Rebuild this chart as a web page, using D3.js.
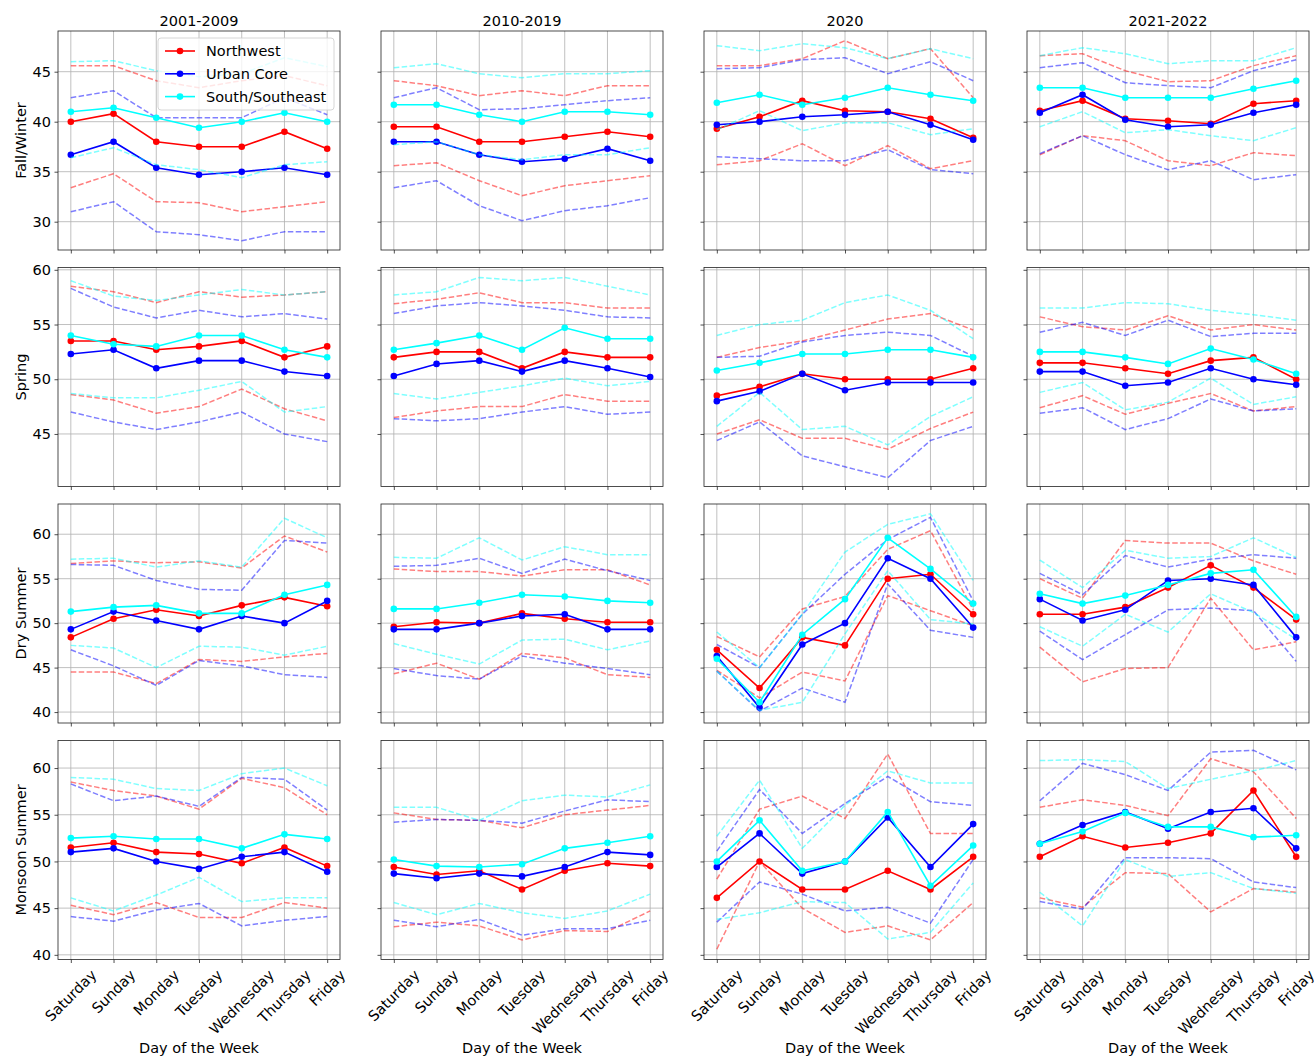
<!DOCTYPE html>
<html>
<head>
<meta charset="utf-8">
<script src="https://d3js.org/d3.v7.min.js"></script>
<style>
  body { margin: 0; background: #fff; }
  svg { font-family: "DejaVu Sans", sans-serif; }
</style>
</head>
<body>
<svg id="chart" width="1314" height="1056"></svg>
<script>
var days = ['Saturday', 'Sunday', 'Monday', 'Tuesday', 'Wednesday', 'Thursday', 'Friday'];
var periods = ['2001-2009', '2010-2019', '2020', '2021-2022'];
var seasons = ['Fall/Winter', 'Spring', 'Dry Summer', 'Monsoon Summer'];
var regions = ['Northwest', 'Urban Core', 'South/Southeast'];
var yTicks = [[30, 35, 40, 45], [45, 50, 55, 60], [40, 45, 50, 55, 60], [40, 45, 50, 55, 60]];
var yLimits = [[27.17, 49.07], [40.2, 60.21], [38.77, 63.4], [39.5, 62.95]];

// values are [period][region][day]
var fallMean = [
  [[40.0, 40.8, 38.0, 37.5, 37.5, 39.0, 37.3], [36.7, 38.0, 35.4, 34.7, 35.0, 35.4, 34.7], [41.0, 41.4, 40.4, 39.4, 40.0, 40.9, 40.0]],
  [[39.5, 39.5, 38.0, 38.0, 38.5, 39.0, 38.5], [38.0, 38.0, 36.7, 36.0, 36.3, 37.3, 36.1], [41.7, 41.7, 40.7, 40.0, 41.0, 41.0, 40.7]],
  [[39.3, 40.5, 42.1, 41.1, 41.0, 40.3, 38.4], [39.7, 40.0, 40.5, 40.7, 41.0, 39.7, 38.2], [41.9, 42.7, 41.7, 42.4, 43.4, 42.7, 42.1]],
  [[41.1, 42.1, 40.3, 40.1, 39.8, 41.8, 42.1], [40.9, 42.7, 40.2, 39.5, 39.7, 40.9, 41.7], [43.4, 43.4, 42.4, 42.4, 42.4, 43.3, 44.1]]
];
var fallHigh = [
  [[45.6, 45.6, 44.1, 43.4, 44.1, 44.6, 43.6], [42.4, 43.1, 40.4, 40.4, 40.4, 42.4, 40.7], [46.0, 46.1, 45.1, 44.5, 44.8, 46.4, 45.5]],
  [[44.1, 43.6, 42.6, 43.1, 42.6, 43.6, 43.6], [42.4, 43.4, 41.2, 41.3, 41.7, 42.1, 42.4], [45.4, 45.8, 44.8, 44.4, 44.8, 44.8, 45.1]],
  [[45.6, 45.6, 46.3, 48.1, 46.3, 47.3, 42.4], [45.3, 45.4, 46.2, 46.4, 44.8, 46.0, 44.1], [47.6, 47.1, 47.8, 47.4, 46.3, 47.3, 46.3]],
  [[46.6, 46.8, 45.1, 44.0, 44.1, 45.6, 46.6], [45.4, 45.9, 43.9, 43.6, 43.4, 45.1, 46.2], [46.6, 47.4, 46.8, 45.8, 46.1, 46.1, 47.4]]
];
var fallLow = [
  [[33.4, 34.8, 32.0, 31.9, 31.0, 31.5, 32.0], [31.0, 32.0, 29.0, 28.7, 28.1, 29.0, 29.0], [36.4, 37.4, 35.7, 35.2, 34.4, 35.7, 36.0]],
  [[35.6, 35.9, 34.1, 32.6, 33.6, 34.1, 34.6], [33.4, 34.1, 31.6, 30.1, 31.1, 31.6, 32.4], [37.7, 38.0, 36.7, 36.2, 36.7, 36.7, 37.4]],
  [[35.7, 36.1, 37.8, 35.6, 37.6, 35.3, 36.1], [36.5, 36.3, 36.1, 36.1, 37.2, 35.2, 34.8], [39.2, 41.1, 39.1, 39.9, 39.9, 38.7, 39.3]],
  [[36.7, 38.6, 38.1, 36.1, 35.6, 36.9, 36.6], [36.8, 38.6, 36.7, 35.2, 36.1, 34.2, 34.7], [39.5, 41.0, 38.9, 39.2, 38.6, 38.1, 39.4]]
];

var springMean = [
  [[53.5, 53.5, 52.7, 53.0, 53.5, 52.0, 53.0], [52.3, 52.7, 51.0, 51.7, 51.7, 50.7, 50.3], [54.0, 53.2, 53.0, 54.0, 54.0, 52.7, 52.0]],
  [[52.0, 52.5, 52.5, 51.0, 52.5, 52.0, 52.0], [50.3, 51.4, 51.7, 50.7, 51.7, 51.0, 50.2], [52.7, 53.3, 54.0, 52.7, 54.7, 53.7, 53.7]],
  [[48.5, 49.3, 50.5, 50.0, 50.0, 50.0, 51.0], [48.0, 48.9, 50.5, 49.0, 49.7, 49.7, 49.7], [50.8, 51.5, 52.3, 52.3, 52.7, 52.7, 52.0]],
  [[51.5, 51.5, 51.0, 50.5, 51.7, 52.0, 50.0], [50.7, 50.7, 49.4, 49.7, 51.0, 50.0, 49.5], [52.5, 52.5, 52.0, 51.4, 52.8, 51.8, 50.5]]
];
var springHigh = [
  [[58.5, 58.0, 57.0, 58.0, 57.5, 57.7, 58.0], [58.3, 56.6, 55.6, 56.3, 55.7, 56.0, 55.5], [59.0, 57.6, 57.2, 57.7, 58.2, 57.7, 58.0]],
  [[56.9, 57.3, 57.9, 57.0, 57.0, 56.5, 56.5], [56.0, 56.7, 57.0, 56.7, 56.3, 55.7, 55.6], [57.7, 58.0, 59.3, 59.0, 59.3, 58.5, 57.7]],
  [[52.0, 52.9, 53.5, 54.5, 55.5, 56.0, 54.5], [52.0, 52.1, 53.4, 54.0, 54.3, 54.0, 52.1], [54.0, 55.0, 55.4, 57.0, 57.7, 56.3, 53.7]],
  [[55.7, 54.8, 54.5, 55.8, 54.5, 55.0, 54.5], [54.3, 55.2, 54.0, 55.4, 53.9, 54.2, 54.2], [56.5, 56.5, 57.0, 56.9, 56.3, 55.9, 55.4]]
];
var springLow = [
  [[48.6, 48.1, 46.9, 47.5, 49.1, 47.3, 46.2], [47.0, 46.1, 45.4, 46.1, 47.0, 45.0, 44.3], [48.7, 48.3, 48.3, 49.0, 49.8, 47.0, 47.5]],
  [[46.5, 47.1, 47.5, 47.5, 48.6, 48.0, 48.0], [46.4, 46.2, 46.4, 47.0, 47.5, 46.8, 47.0], [48.7, 48.2, 48.8, 49.4, 50.1, 49.4, 49.8]],
  [[45.0, 46.3, 44.6, 44.6, 43.6, 45.5, 47.0], [44.4, 46.1, 43.0, 42.0, 41.0, 44.4, 45.7], [45.7, 48.8, 45.4, 45.7, 44.0, 46.6, 48.4]],
  [[47.4, 48.5, 46.8, 47.8, 48.7, 47.1, 47.5], [46.9, 47.4, 45.4, 46.4, 48.2, 47.1, 47.3], [48.8, 49.7, 47.2, 47.9, 50.1, 47.7, 48.4]]
];

var drySummerMean = [
  [[48.4, 50.5, 51.5, 50.8, 52.0, 52.9, 51.9], [49.3, 51.3, 50.3, 49.3, 50.8, 50.0, 52.5], [51.3, 51.8, 52.0, 51.1, 51.1, 53.2, 54.3]],
  [[49.6, 50.1, 50.0, 51.1, 50.5, 50.1, 50.1], [49.3, 49.3, 50.0, 50.8, 51.0, 49.3, 49.3], [51.6, 51.6, 52.3, 53.2, 53.0, 52.5, 52.3]],
  [[47.0, 42.7, 48.4, 47.5, 55.0, 55.5, 51.0], [46.3, 40.5, 47.6, 50.0, 57.3, 55.0, 49.5], [46.0, 41.1, 48.7, 52.7, 59.6, 56.1, 52.2]],
  [[51.0, 51.0, 51.8, 54.0, 56.5, 54.0, 50.4], [52.7, 50.3, 51.5, 54.8, 55.0, 54.3, 48.4], [53.3, 52.2, 53.1, 54.3, 55.6, 56.0, 50.7]]
];
var drySummerHigh = [
  [[56.7, 57.0, 56.8, 56.9, 56.2, 59.8, 58.0], [56.6, 56.5, 54.8, 53.8, 53.7, 59.3, 59.0], [57.2, 57.3, 56.3, 57.0, 56.3, 61.8, 59.6]],
  [[56.1, 55.8, 55.8, 55.3, 56.0, 56.0, 54.3], [56.4, 56.5, 57.3, 55.6, 57.2, 55.9, 54.8], [57.4, 57.3, 59.6, 57.1, 58.6, 57.7, 57.7]],
  [[48.5, 46.2, 51.6, 53.0, 58.3, 60.4, 51.5], [47.6, 45.0, 51.0, 55.5, 59.4, 61.9, 52.5], [49.0, 45.0, 51.0, 58.0, 61.1, 62.3, 54.8]],
  [[55.0, 52.8, 59.3, 59.0, 59.0, 57.0, 55.5], [55.6, 53.2, 57.6, 56.3, 57.2, 57.7, 57.3], [57.1, 54.0, 58.2, 57.3, 57.5, 59.6, 57.4]]
];
var drySummerLow = [
  [[44.5, 44.5, 43.2, 45.9, 45.7, 46.2, 46.6], [47.0, 45.2, 43.0, 45.8, 45.2, 44.2, 43.9], [47.5, 47.2, 45.0, 47.4, 47.3, 46.4, 47.4]],
  [[44.3, 45.5, 43.7, 46.6, 46.1, 44.2, 43.9], [44.9, 44.1, 43.7, 46.3, 45.5, 44.9, 44.2], [47.7, 46.5, 45.4, 48.1, 48.2, 47.0, 48.0]],
  [[44.7, 41.6, 44.5, 43.5, 53.1, 51.4, 49.7], [44.6, 40.1, 42.7, 41.1, 54.4, 49.2, 48.4], [44.6, 40.2, 41.1, 48.8, 55.9, 50.4, 49.9]],
  [[47.3, 43.4, 44.9, 45.0, 52.8, 47.0, 47.9], [49.1, 45.9, 48.7, 51.5, 51.7, 51.4, 45.7], [49.6, 47.4, 51.0, 49.0, 53.3, 51.2, 48.2]]
];

var monsoonMean = [
  [[51.5, 52.0, 51.0, 50.8, 49.8, 51.5, 49.5], [51.0, 51.4, 50.0, 49.2, 50.5, 51.0, 48.9], [52.5, 52.7, 52.4, 52.4, 51.4, 52.9, 52.4]],
  [[49.4, 48.6, 49.0, 47.0, 49.0, 49.8, 49.5], [48.7, 48.2, 48.7, 48.4, 49.4, 51.0, 50.7], [50.2, 49.5, 49.4, 49.7, 51.4, 52.0, 52.7]],
  [[46.1, 50.0, 47.0, 47.0, 49.0, 47.0, 50.5], [49.4, 53.0, 48.7, 50.0, 54.7, 49.4, 54.0], [50.0, 54.4, 49.0, 50.0, 55.3, 47.4, 51.7]],
  [[50.5, 52.7, 51.5, 52.0, 53.0, 57.6, 50.5], [51.9, 53.9, 55.3, 53.5, 55.3, 55.7, 51.4], [51.9, 53.2, 55.2, 53.7, 53.7, 52.6, 52.8]]
];
var monsoonHigh = [
  [[58.5, 57.6, 57.0, 55.6, 58.9, 57.9, 55.0], [58.3, 56.5, 57.0, 55.9, 59.0, 58.8, 55.5], [59.0, 58.8, 57.8, 57.6, 59.4, 60.0, 58.1]],
  [[55.2, 54.5, 54.4, 53.6, 55.0, 55.5, 56.0], [54.2, 54.5, 54.4, 54.1, 55.4, 56.6, 56.4], [55.8, 55.8, 54.4, 56.5, 57.1, 56.9, 58.2]],
  [[48.1, 55.6, 57.0, 54.6, 61.5, 53.0, 53.0], [51.1, 57.7, 53.0, 56.2, 59.1, 56.4, 56.0], [52.7, 58.7, 51.4, 56.0, 59.7, 58.4, 58.4]],
  [[55.8, 56.6, 56.0, 54.9, 61.0, 59.6, 54.6], [56.5, 60.5, 59.3, 57.6, 61.7, 61.9, 59.8], [60.8, 60.9, 60.7, 57.8, 58.8, 59.7, 60.8]]
];
var monsoonLow = [
  [[45.3, 44.3, 45.6, 44.0, 44.0, 45.6, 45.0], [44.1, 43.6, 44.8, 45.5, 43.1, 43.7, 44.1], [46.1, 44.7, 46.4, 48.3, 45.7, 46.1, 46.1]],
  [[43.0, 43.5, 43.1, 41.6, 42.6, 42.5, 44.7], [43.7, 43.0, 43.8, 42.1, 42.8, 42.8, 43.7], [45.6, 44.3, 45.5, 44.5, 43.9, 44.7, 46.5]],
  [[40.6, 50.0, 45.0, 42.4, 43.1, 41.6, 45.6], [43.5, 47.8, 46.5, 44.7, 45.1, 43.4, 50.2], [43.8, 44.5, 45.7, 45.6, 41.7, 42.4, 47.7]],
  [[46.1, 45.1, 48.8, 48.7, 44.6, 47.1, 46.7], [45.7, 44.9, 50.4, 50.4, 50.3, 47.8, 47.2], [46.7, 43.1, 50.2, 48.4, 48.8, 47.1, 46.6]]
];

var seasonMean = [fallMean, springMean, drySummerMean, monsoonMean];
var seasonHigh = [fallHigh, springHigh, drySummerHigh, monsoonHigh];
var seasonLow = [fallLow, springLow, drySummerLow, monsoonLow];

var colors = ['#ff0000', '#0000ff', '#00ffff'];
var colLeft = [58, 381, 704, 1027], panelW = 282;
var rowTop = [31, 267.5, 504, 740.5], panelH = 219;
var fontSize = 14.5;

var svg = d3.select('#chart');
svg.append('rect').attr('width', 1314).attr('height', 1056).attr('fill', '#fff');

var x = d3.scalePoint().domain(days).range([0, panelW]).padding(0.3);

for (var r = 0; r < seasons.length; r++) {
  var y = d3.scaleLinear().domain(yLimits[r]).range([panelH, 0]);
  var line = d3.line()
    .x(function(d, i) { return x(days[i]); })
    .y(function(d) { return y(d); });

  for (var c = 0; c < periods.length; c++) {
    var g = svg.append('g').attr('transform', 'translate(' + colLeft[c] + ',' + rowTop[r] + ')');

    // grid
    g.selectAll('.gx').data(days).enter().append('line')
      .attr('x1', function(d) { return x(d); }).attr('x2', function(d) { return x(d); })
      .attr('y1', 0).attr('y2', panelH)
      .attr('stroke', '#b0b0b0').attr('stroke-width', 0.8);
    g.selectAll('.gy').data(yTicks[r]).enter().append('line')
      .attr('x1', 0).attr('x2', panelW)
      .attr('y1', function(d) { return y(d); }).attr('y2', function(d) { return y(d); })
      .attr('stroke', '#b0b0b0').attr('stroke-width', 0.8);

    // axes
    var yAxis = d3.axisLeft(y).tickValues(yTicks[r]).tickSize(3.5).tickPadding(3.5);
    if (c > 0) yAxis.tickFormat('');
    var ya = g.append('g').call(yAxis);
    ya.select('.domain').remove();
    ya.selectAll('text').attr('font-size', fontSize).attr('font-family', '"DejaVu Sans", sans-serif').attr('fill', '#000');
    ya.selectAll('line').attr('stroke', '#222').attr('stroke-width', 0.8);

    var xAxis = d3.axisBottom(x).tickSize(3.5).tickFormat('');
    var xa = g.append('g').attr('transform', 'translate(0,' + panelH + ')').call(xAxis);
    xa.select('.domain').remove();
    xa.selectAll('line').attr('stroke', '#222').attr('stroke-width', 0.8);

    // series
    for (var k = 0; k < regions.length; k++) {
      [seasonHigh[r][c][k], seasonLow[r][c][k]].forEach(function(vals) {
        g.append('path').datum(vals)
          .attr('d', line).attr('fill', 'none')
          .attr('stroke', colors[k]).attr('stroke-opacity', 0.5)
          .attr('stroke-width', 1.5).attr('stroke-dasharray', '5.5,2.4');
      });
      var mean = seasonMean[r][c][k];
      g.append('path').datum(mean)
        .attr('d', line).attr('fill', 'none')
        .attr('stroke', colors[k]).attr('stroke-width', 1.6);
      g.selectAll('.m' + k).data(mean).enter().append('circle')
        .attr('cx', function(d, i) { return x(days[i]); })
        .attr('cy', function(d) { return y(d); })
        .attr('r', 3.3).attr('fill', colors[k]);
    }

    // frame
    g.append('rect').attr('width', panelW).attr('height', panelH)
      .attr('fill', 'none').attr('stroke', '#222').attr('stroke-width', 0.8);

    if (r === 0) {
      svg.append('text').attr('x', colLeft[c] + panelW / 2).attr('y', rowTop[0] - 5)
        .attr('text-anchor', 'middle').attr('font-size', fontSize).text(periods[c]);
    }

    if (r === seasons.length - 1) {
      days.forEach(function(day) {
        var t = g.append('text').attr('font-size', fontSize)
          .attr('text-anchor', 'middle').attr('dominant-baseline', 'central').text(day);
        var w = t.node().getComputedTextLength();
        var half = (w + fontSize * 1.16) * Math.SQRT1_2 / 2;
        t.attr('transform', 'translate(' + x(day) + ',' + (panelH + 7 + half) + ') rotate(-45)');
      });
      svg.append('text').attr('x', colLeft[c] + panelW / 2).attr('y', 1053)
        .attr('text-anchor', 'middle').attr('font-size', fontSize).text('Day of the Week');
    }

    if (c === 0) {
      svg.append('text')
        .attr('transform', 'translate(26,' + (rowTop[r] + panelH / 2) + ') rotate(-90)')
        .attr('text-anchor', 'middle').attr('font-size', fontSize).text(seasons[r]);
    }
  }
}

// legend in first panel
var lg = svg.append('g').attr('transform', 'translate(158,38)');
lg.append('rect').attr('width', 176).attr('height', 72).attr('rx', 3)
  .attr('fill', '#fff').attr('fill-opacity', 0.8).attr('stroke', '#ccc').attr('stroke-width', 0.8);
regions.forEach(function(name, k) {
  var yy = 13 + k * 22.8;
  lg.append('line').attr('x1', 7).attr('x2', 37).attr('y1', yy).attr('y2', yy)
    .attr('stroke', colors[k]).attr('stroke-width', 1.6);
  lg.append('circle').attr('cx', 22).attr('cy', yy).attr('r', 3.3).attr('fill', colors[k]);
  lg.append('text').attr('x', 48).attr('y', yy).attr('dominant-baseline', 'central')
    .attr('font-size', fontSize).text(name);
});
</script>
</body>
</html>
